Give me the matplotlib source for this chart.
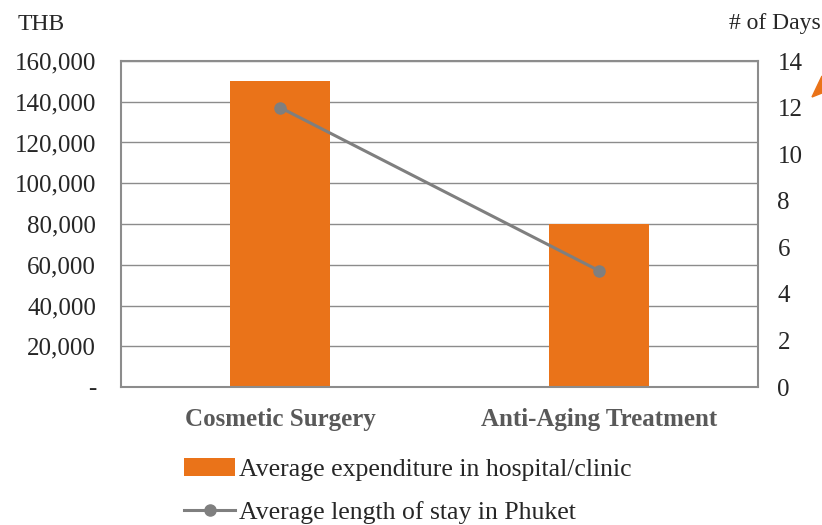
import numpy as np
import matplotlib
matplotlib.use("Agg")
import matplotlib.pyplot as plt
from matplotlib.patches import Polygon
from matplotlib.lines import Line2D
from matplotlib.patches import Patch

categories = ["Cosmetic Surgery", "Anti-Aging Treatment"]
expenditure = [150000, 80000]
stay_days = [12, 5]
left_ticks = [0, 20000, 40000, 60000, 80000, 100000, 120000, 140000, 160000]
right_ticks = [0, 2, 4, 6, 8, 10, 12, 14]

orange = "#EA7319"
gray_line = "#7F7F7F"
frame = "#8C8C8C"
txt = "#262626"

plt.rcParams["font.family"] = ["Liberation Serif", "DejaVu Serif"]

fig = plt.figure(figsize=(8.22, 5.25), dpi=100)
ax = fig.add_axes([121 / 822, 1 - 387 / 525, 637 / 822, 326 / 525])
x = np.arange(len(categories))

ax.bar(x, expenditure, width=0.314, color=orange, zorder=2)
ax.set_xlim(-0.5, 1.5)
ax.set_ylim(0, 160000)
ax.set_yticks(left_ticks)
ax.set_yticklabels(["-" if v == 0 else f"{v:,}" for v in left_ticks])
ax.yaxis.grid(True, color=frame, linewidth=1.0, zorder=0)
ax.set_xticks(x)
ax.set_xticklabels(categories, fontweight="bold", color="#595959", fontsize=18)
ax.tick_params(axis="x", length=0, pad=15)
ax.tick_params(axis="y", length=0, pad=18, labelsize=18, labelcolor=txt)
for s in ax.spines.values():
    s.set_color(frame)
    s.set_linewidth(1.5)

ax2 = ax.twinx()
ax2.plot(x, stay_days, color=gray_line, linewidth=2.2, marker="o", markersize=8, zorder=3)
ax2.set_ylim(0, 14)
ax2.set_yticks(right_ticks)
ax2.tick_params(axis="y", length=0, pad=14, labelsize=18, labelcolor=txt)
for s in ax2.spines.values():
    s.set_visible(False)

fig.text(18 / 822, 1 - 24 / 525, "THB", fontsize=17, color=txt, va="center", ha="left")
fig.text(821 / 822, 1 - 24 / 525, "# of Days", fontsize=17, color=txt, va="center", ha="right")

handles = [Patch(facecolor=orange, edgecolor="none"),
           Line2D([0], [0], color=gray_line, linewidth=2.2, marker="o", markersize=8)]
labels = ["Average expenditure in hospital/clinic", "Average length of stay in Phuket"]
fig.legend(handles, labels, loc="upper left", bbox_to_anchor=(184 / 822, 1 - 458 / 525),
           frameon=False, fontsize=18.5, handlelength=2.0, handletextpad=0.15,
           labelspacing=0.78, borderaxespad=0, borderpad=0, labelcolor=txt)

arrow = Polygon([(812 / 822, 1 - 97 / 525), (822 / 822, 1 - 76 / 525), (822 / 822, 1 - 93 / 525)],
                closed=True, transform=fig.transFigure, color=orange)
fig.patches.append(arrow)

fig.savefig("out.png", dpi=100)
